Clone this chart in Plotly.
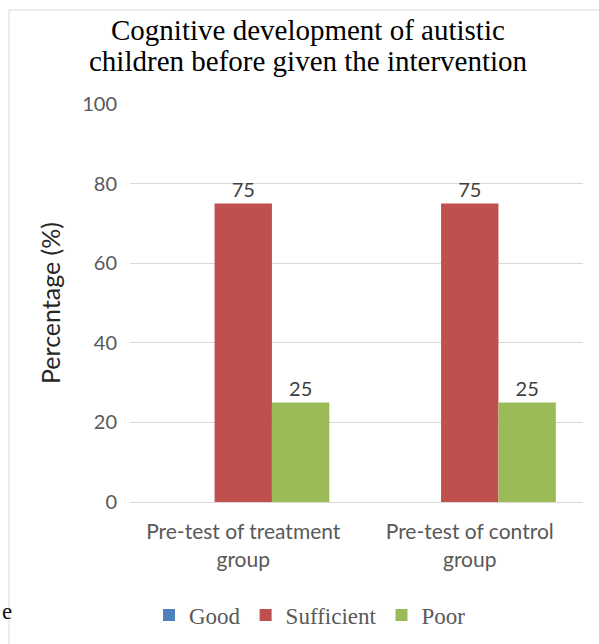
import plotly.graph_objects as go

categories = ["Pre-test of treatment group", "Pre-test of control group"]
series_names = ["Good", "Sufficient", "Poor"]
good = [0, 0]
sufficient = [75, 75]
poor = [25, 25]
series_values = [good, sufficient, poor]
colors = ["#4F81BD", "#C0504D", "#9BBB59"]
y_ticks = [0, 20, 40, 60, 80, 100]
title_lines = ["Cognitive development of autistic", "children before given the intervention"]

W, H = 599, 644
ML, MR, MT, MB = 130, 16, 104, 142
PW, PH = W - ML - MR, H - MT - MB

def px_x(p):
    return (p - ML) / PW

def px_y(p):
    return (H - MB - p) / PH

def wrap(label):
    head, tail = label.rsplit(" ", 1)
    return head + "<br>" + tail

fig = go.Figure()
for name, vals, col in zip(series_names, series_values, colors):
    fig.add_trace(go.Bar(
        name=name, x=categories, y=vals, marker=dict(color=col, line=dict(width=0)),
        text=[str(v) if v else "" for v in vals], textposition="outside",
        textfont=dict(family="Lato", size=20, color="#404040"), cliponaxis=False,
    ))

fig.update_layout(
    width=W, height=H,
    margin=dict(l=ML, r=MR, t=MT, b=MB),
    paper_bgcolor="white", plot_bgcolor="white",
    barmode="group", bargap=0.24, bargroupgap=0,
    xaxis=dict(
        tickmode="array", tickvals=categories, ticktext=[wrap(c) for c in categories],
        tickfont=dict(family="Lato", size=21, color="#595959"),
        ticks="outside", ticklen=11, tickcolor="rgba(0,0,0,0)",
        showline=False, showgrid=False,
    ),
    yaxis=dict(
        range=[0, 100], tickvals=y_ticks,
        tickfont=dict(family="Lato", size=20, color="#595959"),
        ticks="outside", ticklen=8, tickcolor="rgba(0,0,0,0)",
        showgrid=True, gridcolor="#D9D9D9", gridwidth=1,
        zeroline=True, zerolinecolor="#D9D9D9", zerolinewidth=1,
        showline=False, automargin=True,
        title=dict(text="Percentage (%)", font=dict(family="Lato", size=25, color="#262626"), standoff=14),
    ),
    legend=dict(
        orientation="h", xref="container", yref="container",
        x=310 / W, xanchor="center", y=1 - 615 / H, yanchor="middle",
        font=dict(family="Liberation Serif", size=23, color="#595959"),
        itemwidth=30, traceorder="normal", bgcolor="rgba(0,0,0,0)",
    ),
    showlegend=True,
)

for line, cy in zip(title_lines, [30, 61]):
    fig.add_annotation(text=line, xref="paper", yref="paper", x=px_x(308), y=px_y(cy),
                       xanchor="center", yanchor="middle", showarrow=False,
                       font=dict(family="Liberation Serif", size=29, color="#000000"))

border = "#D9D9D9"
fig.add_shape(type="line", xref="paper", yref="paper",
              x0=px_x(9), x1=px_x(W), y0=px_y(10), y1=px_y(10), line=dict(color=border, width=1))
fig.add_shape(type="line", xref="paper", yref="paper",
              x0=px_x(9), x1=px_x(9), y0=px_y(10), y1=px_y(H), line=dict(color=border, width=1))

fig.add_annotation(text="e", xref="paper", yref="paper", x=px_x(0), y=px_y(611),
                   xanchor="left", yanchor="middle", showarrow=False,
                   font=dict(family="Liberation Serif", size=23, color="#111111"))

fig.write_html("out.html")
